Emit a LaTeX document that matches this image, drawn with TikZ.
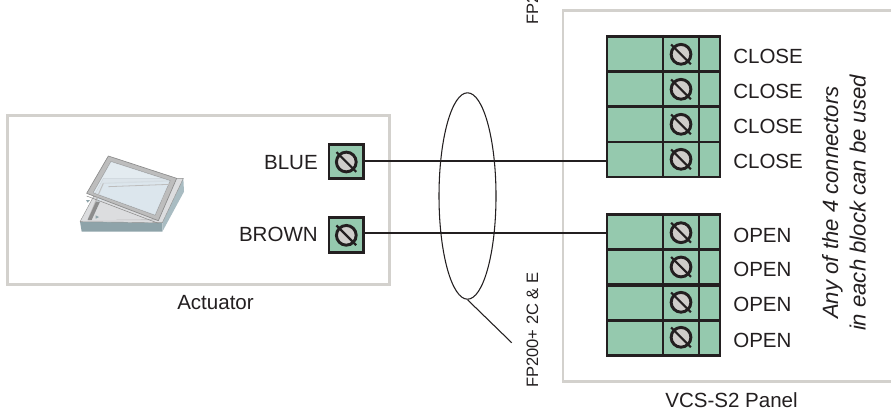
\documentclass[tikz,border=0pt]{standalone}
\usepackage{fontspec}
\usetikzlibrary{shapes.geometric}
\setmainfont{Liberation Sans}
\definecolor{termgreen}{HTML}{95C9AE}
\definecolor{screwgrey}{HTML}{CFCDCA}
\definecolor{inkdark}{HTML}{231F20}
\definecolor{boxgrey}{HTML}{D3D1CD}
\definecolor{winfront}{HTML}{8EA3A9}
\definecolor{winside}{HTML}{A9BCC2}
\definecolor{wintop}{HTML}{DCDDDF}
\definecolor{winframe}{HTML}{BDBDBD}
\definecolor{winedge}{HTML}{8C8C8C}
\definecolor{winglass}{HTML}{DCE6ED}
\tikzset{
  px/.style={x=0.75pt,y=-0.75pt},
  encl/.style={draw=boxgrey,line width=2.1pt,fill=white,inner sep=0pt,rectangle},
  cellbox/.style={draw=inkdark,line width=2pt,fill=termgreen,rectangle,inner sep=0pt,minimum width=84.75pt,minimum height=26.4pt},
  termbox/.style={draw=inkdark,line width=2.2pt,fill=termgreen,rectangle,inner sep=0pt,minimum size=26pt},
  screw/.style={draw=inkdark,line width=2.2pt,fill=screwgrey,circle,inner sep=0pt,minimum size=14.8pt},
  slot/.style={draw=inkdark,line width=1.6pt},
  wire/.style={draw=inkdark,line width=1.6pt},
  thin wire/.style={draw=inkdark,line width=0.8pt},
  lbl/.style={font=\fontsize{15.4pt}{18pt}\selectfont,text=inkdark,inner sep=0pt},
  note/.style={font=\fontsize{16.6pt}{19pt}\selectfont\itshape,text=inkdark,inner sep=0pt,rotate=90,anchor=base},
  cable/.style={font=\fontsize{12.4pt}{15pt}\selectfont,text=inkdark,inner sep=0pt,rotate=90,anchor=base west},
}
\newcommand{\drawscrew}[2]{%
  \node[screw] (#1) at #2 {};
  \draw[slot] ([shift={(135:10.5pt)}]#1.center) -- ([shift={(-45:10.5pt)}]#1.center);
}
\begin{document}
\begin{tikzpicture}[px]
\useasboundingbox (0,0) rectangle (891,410);
\fill[white] (0,0) rectangle (891,410);
% enclosures
\node[encl,minimum width=286.5pt,minimum height=126.75pt,anchor=north west] (act) at (6,114) {};
\node[encl,minimum width=254pt,minimum height=278.25pt,anchor=north west] (panel) at (561.5,9) {};
% window
\begin{scope}[shift={(75,150)},x=0.25pt,y=-0.25pt,line join=round]
  \fill[winfront] (15,215) -- (262,218) -- (262,245) -- (20,245) -- cycle;
  \fill[winside] (262,218) -- (325,85) -- (327,125) -- (262,245) -- cycle;
  \filldraw[draw=winedge,line width=0.3pt,fill=wintop] (15,215) -- (85,85) -- (325,85) -- (262,218) -- cycle;
  \draw[draw=winframe,line width=1pt,fill=winglass] (85,100) -- (297,92) -- (245,208) -- (40,208) -- cycle;
  \fill[wintop] (50,210) -- (78,150) -- (230,190) -- (245,208) -- cycle;
  \fill[winedge] (38,210) -- (50,210) -- (75,155) -- (63,155) -- cycle;
  \filldraw[draw=winedge,line width=0.5pt,fill=winframe,even odd rule]
    (100,18) -- (305,85) -- (250,212) -- (35,130) -- cycle
    (108,35) -- (285,92) -- (240,195) -- (55,128) -- cycle;
  \fill[winglass,opacity=0.8] (108,35) -- (285,92) -- (240,195) -- (55,128) -- cycle;
  \draw[draw=winframe,line width=0.6pt] (85,100) -- (65,145) (100,110) -- (285,103) -- (262,150);
  \draw[draw=winedge,line width=0.4pt] (35,138) -- (250,220);
  \fill[winfront] (33,150) -- (45,150) -- (38,158) -- cycle;
  \fill[winfront] (62,196) -- (72,201) -- (62,206) -- cycle;
\end{scope}
% panel terminal blocks
\foreach \n/\y in {c1/53.9,c2/89,c3/124.5,c4/159.5,o1/232,o2/267,o3/303,o4/338}{
  \node[cellbox] (\n) at (663.5,\y) {};
}
\draw[draw=inkdark,line width=2pt] (c1.north -| 663,0) -- (c4.south -| 663,0) (c1.north -| 699,0) -- (c4.south -| 699,0);
\draw[draw=inkdark,line width=2pt] (o1.north -| 663,0) -- (o4.south -| 663,0) (o1.north -| 699,0) -- (o4.south -| 699,0);
\foreach \n/\y in {sc1/54.3,sc2/89.3,sc3/124.3,sc4/159.3,so1/232.7,so2/267,so3/302.3,so4/337.3}{
  \drawscrew{\n}{(681,\y)}
}
% actuator terminals
\node[termbox] (tb) at (346.3,161.5) {};
\node[termbox] (tr) at (346.3,235) {};
\drawscrew{stb}{(346.3,162)}
\drawscrew{str}{(346.3,235.3)}
% wires
\path ([yshift=-0.9pt]c4.west) coordinate (w4) ([yshift=-1pt]o1.west) coordinate (w5);
\draw[wire] (tb.east |- w4) -- (c4.west |- w4);
\draw[wire] (tr.east |- w5) -- (o1.west |- w5);
% cable
\node[draw=inkdark,line width=0.8pt,ellipse,inner sep=0pt,minimum width=42.75pt,minimum height=154.8pt] (ell) at (467.5,196) {};
\coordinate (leadend) at (511.7,342.7);
\draw[thin wire] (ell.south) -- (leadend);
% labels
\node[lbl,anchor=base east] (lblue) at (318,169) {BLUE};
\node[lbl,anchor=base east] (lbrown) at (318,241.7) {BROWN};
\node[lbl,anchor=base] (lact) at (215.5,309) {Actuator};
\node[lbl,anchor=base] (lpanel) at (731.5,407) {VCS-S2 Panel};
\foreach \n/\y/\t in {l1/64/CLOSE,l2/98.7/CLOSE,l3/133/CLOSE,l4/168/CLOSE,l5/242/OPEN,l6/276.7/OPEN,l7/311.7/OPEN,l8/347/OPEN}{
  \node[lbl,anchor=base west] (\n) at (733,\y) {\t};
}
\node[note] (n1) at (838,202.5) {Any of the 4 connectors};
\node[note] (n2) at (865.5,203) {in each block can be used};
\node[cable] (c200) at (538,388) {FP200+ 2C \& E};
\node[cable] (ctop) at (538,25) {FP2};
\end{tikzpicture}
\end{document}
